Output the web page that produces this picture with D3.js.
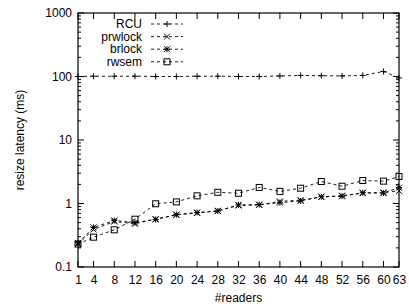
<!DOCTYPE html>
<html>
<head>
<meta charset="utf-8">
<script src="https://cdn.jsdelivr.net/npm/d3@7"></script>
<style>
body { margin: 0; background: #fff; }
text { font-family: "Liberation Sans", Arial, sans-serif; fill: #000; }
</style>
</head>
<body>
<svg class="chart"></svg>
<script>
var readers = [1, 4, 8, 12, 16, 20, 24, 28, 32, 36, 40, 44, 48, 52, 56, 60, 63];
var rcu     = [100, 101, 101, 101, 100, 100, 101, 101, 100, 100, 102, 104, 103, 102, 104, 120, 95];
var prwlock = [0.23, 0.39, 0.52, 0.48, 0.57, 0.66, 0.71, 0.77, 0.93, 0.95, 1.08, 1.13, 1.26, 1.33, 1.45, 1.49, 1.58];
var brlock  = [0.24, 0.42, 0.54, 0.50, 0.56, 0.67, 0.72, 0.76, 0.95, 0.96, 1.03, 1.10, 1.28, 1.30, 1.48, 1.46, 1.78];
var rwsem   = [0.23, 0.295, 0.385, 0.566, 0.99, 1.06, 1.32, 1.50, 1.45, 1.79, 1.55, 1.74, 2.22, 1.87, 2.30, 2.25, 2.66];
var yTicks = [0.1, 1, 10, 100, 1000];

var series = [
    {name: "RCU", values: rcu, marker: "plus"},
    {name: "prwlock", values: prwlock, marker: "cross"},
    {name: "brlock", values: brlock, marker: "star"},
    {name: "rwsem", values: rwsem, marker: "square"}
];

var margin = {top: 13, right: 10, bottom: 41, left: 78};
var width = 409 - margin.left - margin.right;
var height = 308 - margin.top - margin.bottom;

var svg = d3.select(".chart")
    .attr("width", 409)
    .attr("height", 308);

var chart = svg.append("g")
    .attr("transform", "translate(" + margin.left + "," + margin.top + ")");

var x = d3.scaleLinear().domain([1, 63]).range([0, width]);
var y = d3.scaleLog().domain([0.1, 1000]).range([height, 0]);

// minor log ticks
var minor = [];
for (var p = -1; p < 3; p++) {
    for (var m = 2; m < 10; m++) minor.push(m * Math.pow(10, p));
}

function drawMarker(g, type, cx, cy) {
    var s = 3;
    if (type === "plus") {
        g.append("path").attr("d", "M" + (cx - s) + "," + cy + "H" + (cx + s) + "M" + cx + "," + (cy - s) + "V" + (cy + s));
    } else if (type === "cross") {
        g.append("path").attr("d", "M" + (cx - s) + "," + (cy - s) + "L" + (cx + s) + "," + (cy + s) + "M" + (cx - s) + "," + (cy + s) + "L" + (cx + s) + "," + (cy - s));
    } else if (type === "star") {
        g.append("path").attr("d", "M" + (cx - s) + "," + cy + "H" + (cx + s) + "M" + cx + "," + (cy - s) + "V" + (cy + s) +
            "M" + (cx - s) + "," + (cy - s) + "L" + (cx + s) + "," + (cy + s) + "M" + (cx - s) + "," + (cy + s) + "L" + (cx + s) + "," + (cy - s));
    } else {
        g.append("rect").attr("x", cx - s).attr("y", cy - s).attr("width", 2 * s).attr("height", 2 * s).attr("fill", "none");
    }
}

// tick marks, mirrored on all sides
var ticksG = chart.append("g").attr("stroke", "#000").attr("stroke-width", 1);
readers.forEach(function(r) {
    ticksG.append("line").attr("x1", x(r)).attr("x2", x(r)).attr("y1", height).attr("y2", height - 6);
    ticksG.append("line").attr("x1", x(r)).attr("x2", x(r)).attr("y1", 0).attr("y2", 6);
});
yTicks.forEach(function(t) {
    ticksG.append("line").attr("x1", 0).attr("x2", 6).attr("y1", y(t)).attr("y2", y(t));
    ticksG.append("line").attr("x1", width).attr("x2", width - 6).attr("y1", y(t)).attr("y2", y(t));
});
minor.forEach(function(t) {
    ticksG.append("line").attr("x1", 0).attr("x2", 3).attr("y1", y(t)).attr("y2", y(t));
    ticksG.append("line").attr("x1", width).attr("x2", width - 3).attr("y1", y(t)).attr("y2", y(t));
});

chart.append("rect")
    .attr("width", width)
    .attr("height", height)
    .attr("fill", "none")
    .attr("stroke", "#000")
    .attr("stroke-width", 1.2);

var xAxis = d3.axisBottom(x).tickValues(readers).tickSize(0).tickPadding(8);
chart.append("g")
    .attr("transform", "translate(0," + height + ")")
    .call(xAxis)
    .call(function(g) { g.select(".domain").remove(); })
    .selectAll("text").style("font-size", "12px").style("font-family", "Liberation Sans, Arial, sans-serif");

var yAxis = d3.axisLeft(y).tickValues(yTicks).tickFormat(d3.format("~g")).tickSize(0).tickPadding(6);
chart.append("g")
    .call(yAxis)
    .call(function(g) { g.select(".domain").remove(); })
    .selectAll("text").style("font-size", "12px").style("font-family", "Liberation Sans, Arial, sans-serif");

// series
var line = d3.line()
    .x(function(d) { return x(d[0]); })
    .y(function(d) { return y(d[1]); });

series.forEach(function(s) {
    var pts = readers.map(function(r, i) { return [r, s.values[i]]; });
    chart.append("path")
        .attr("d", line(pts))
        .attr("fill", "none")
        .attr("stroke", "#000")
        .attr("stroke-width", 0.9)
        .attr("stroke-dasharray", "3,3");
    var mg = chart.append("g").attr("stroke", "#000").attr("stroke-width", 1).attr("fill", "none");
    pts.forEach(function(d) { drawMarker(mg, s.marker, x(d[0]), y(d[1])); });
});

// legend
var legend = svg.append("g");
series.forEach(function(s, i) {
    var ly = 24 + i * 12.6;
    legend.append("text")
        .attr("x", 142)
        .attr("y", ly)
        .attr("dy", "0.35em")
        .attr("text-anchor", "end")
        .style("font-size", "12px")
        .text(s.name);
    legend.append("line")
        .attr("x1", 151).attr("x2", 183)
        .attr("y1", ly).attr("y2", ly)
        .attr("stroke", "#000")
        .attr("stroke-width", 0.9)
        .attr("stroke-dasharray", "3,3");
    var mg = legend.append("g").attr("stroke", "#000").attr("stroke-width", 1).attr("fill", "none");
    drawMarker(mg, s.marker, 167, ly);
});

// axis titles
svg.append("text")
    .attr("transform", "translate(24," + (margin.top + height / 2) + ") rotate(-90)")
    .attr("text-anchor", "middle")
    .style("font-size", "12px")
    .text("resize latency (ms)");

svg.append("text")
    .attr("x", margin.left + width / 2)
    .attr("y", 302)
    .attr("text-anchor", "middle")
    .style("font-size", "12px")
    .text("#readers");
</script>
</body>
</html>
